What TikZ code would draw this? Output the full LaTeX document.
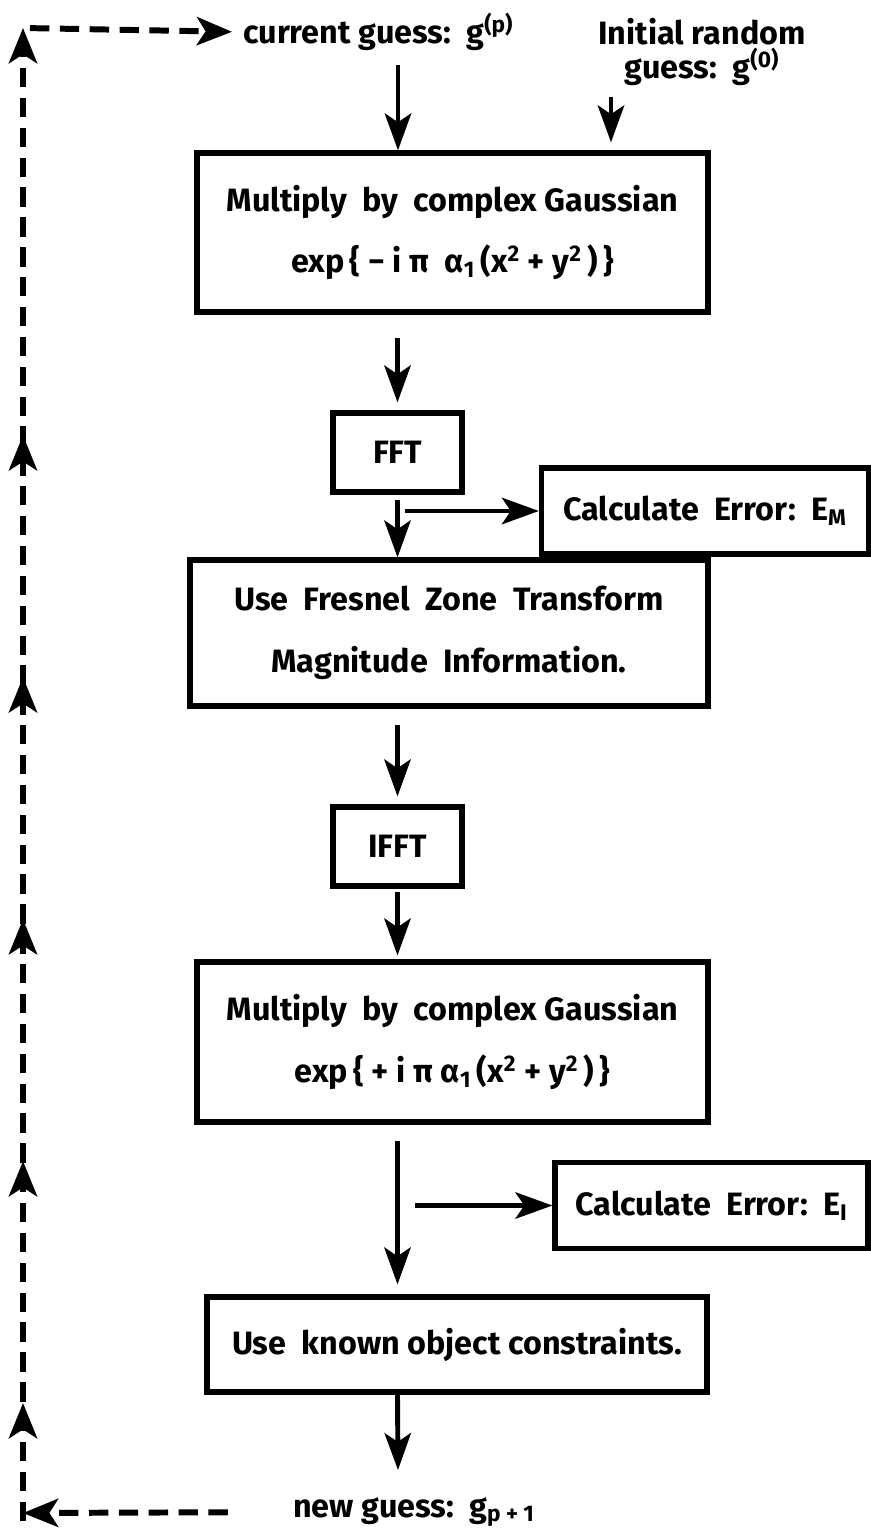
\documentclass[tikz,border=0pt]{standalone}
\usepackage{fontspec}
\setmainfont{Fira Sans}
\usetikzlibrary{arrows.meta,decorations.markings}

\begin{document}
\begin{tikzpicture}[
  x=0.02cm, y=-0.02cm,
  font=\bfseries\fontsize{18.4}{35}\selectfont,
  box/.style={draw,line width=3pt,inner sep=0pt,align=center},
  smallbox/.style={box,minimum width=2.58cm,minimum height=1.58cm},
  errbox/.style={box,minimum height=1.72cm},
  lbl/.style={inner sep=0pt,align=center,font=\bfseries\fontsize{18.4}{19}\selectfont},
  arr/.style={-{Stealth[length=21pt,width=15pt,inset=5pt]},line width=2.8pt},
  loopline/.style={line width=3.4pt,dash pattern=on 11pt off 6pt},
  looptip/.style={-{Stealth[length=20pt,width=16pt,inset=5pt]}}
]
\useasboundingbox (0,0) rectangle (871,1531);

% labels of the loop
\node[lbl,anchor=west] (cur) at (243,32) {current guess:\ \ g\textsuperscript{(p)}};
\node[lbl] (init) at (702,52) {Initial random\\guess:\ \ g\textsuperscript{(0)}};
\node[lbl] (newg) at (414,1512) {new guess:\ \ g\textsubscript{p + 1}};

% boxes
\node[box,minimum width=10.22cm,minimum height=3.18cm] (mulA) at (452.5,232.5)
  {Multiply\ \ by\ \ complex Gaussian\\exp\,\{ − i π\ \ α\textsubscript{1}\,(x\textsuperscript{2} + y\textsuperscript{2}\,)\,\}};
\node[smallbox] (fft) at (397.5,452.5) {FFT};
\node[errbox,minimum width=6.54cm] (errM) at (705,511) {Calculate\ \ Error:\ \ E\textsubscript{M}};
\node[box,minimum width=10.36cm,minimum height=2.92cm] (fresnel) at (449,633)
  {Use\ \ Fresnel\ \ Zone\ \ Transform\\Magnitude\ \ Information.};
\node[smallbox] (ifft) at (397.5,846.5) {IFFT};
\node[box,minimum width=10.22cm,minimum height=3.2cm] (mulB) at (452.5,1042)
  {Multiply\ \ by\ \ complex Gaussian\\exp\,\{ + i π α\textsubscript{1}\,(x\textsuperscript{2} + y\textsuperscript{2}\,)\,\}};
\node[errbox,minimum width=6.26cm] (errI) at (711.5,1205.5) {Calculate\ \ Error:\ \ E\textsubscript{I}};
\node[box,minimum width=10cm,minimum height=1.9cm] (cons) at (457,1344.5)
  {Use\ \ known object constraints.};

% flow
\coordinate (start) at (398,65);
\coordinate (seed) at (611,97);
\coordinate (out) at (398,1470);
\draw[arr] (start) -- (start |- mulA.north);
\draw[arr,shorten >=0.16cm] (seed) -- (seed |- mulA.north);
\draw[arr,shorten <=0.46cm,shorten >=0.16cm] (mulA.south -| fft.north) -- (fft.north);
\draw[arr,shorten <=0.1cm] (fft.south) -- (fft.south |- fresnel.north);
\draw[arr,shorten <=0.14cm] (fft.south |- errM.west) -- (errM.west);
\draw[arr,shorten <=0.32cm,shorten >=0.16cm] (fresnel.south -| ifft.north) -- (ifft.north);
\draw[arr,shorten <=0.06cm,shorten >=0.08cm] (ifft.south) -- (ifft.south |- mulB.north);
\draw[arr,shorten <=0.32cm,shorten >=0.2cm] (mulB.south -| ifft.south) -- (ifft.south |- cons.north);
\draw[arr,shorten <=0.34cm] (ifft.south |- errI.west) -- (errI.west);
\draw[arr] (cons.south -| ifft.south) -- (out);

% feedback loop
\coordinate (bl) at (23,1513);
\coordinate (tl) at (23,28);
\draw[loopline,looptip,shorten <=1.3cm] (newg.west) -- (bl);
\draw[loopline,looptip,
  postaction={decorate,decoration={markings,
    mark=at position 2.36cm with {\arrow[solid]{Stealth[length=20pt,width=16pt,inset=5pt]}},
    mark=at position 7.2cm with {\arrow[solid]{Stealth[length=20pt,width=16pt,inset=5pt]}},
    mark=at position 12.04cm with {\arrow[solid]{Stealth[length=20pt,width=16pt,inset=5pt]}},
    mark=at position 16.88cm with {\arrow[solid]{Stealth[length=20pt,width=16pt,inset=5pt]}},
    mark=at position 21.72cm with {\arrow[solid]{Stealth[length=20pt,width=16pt,inset=5pt]}}}}]
  ([yshift=-0.16cm]bl) -- (tl);
\draw[loopline,looptip,shorten <=0.14cm,shorten >=0.22cm] (tl) -- (cur.west);
\end{tikzpicture}
\end{document}
